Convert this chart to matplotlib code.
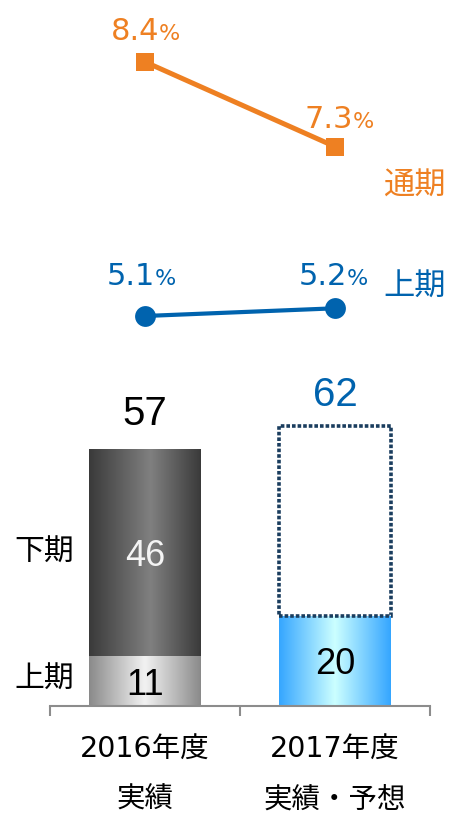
import numpy as np
import matplotlib.pyplot as plt
from matplotlib.colors import to_rgb

# fiscal years and their sub labels
years = ['2016年度', '2017年度']
year_notes = ['実績', '実績・予想']
# sales split into halves (2017 second half is the forecast box)
first_half = [11, 20]
second_half = [46]
totals = [57, 62]
# operating margins (%)
margin_full = [8.4, 7.3]
margin_first = [5.1, 5.2]

ORANGE = '#ee8022'
BLUE = '#0063ae'
NAVY = '#1a3d5e'
AXIS = '#8c8c8c'
JP = ['DejaVu Sans', 'Noto Sans CJK JP']
NUM = ['Liberation Sans', 'DejaVu Sans']

fig = plt.figure(figsize=(4.51, 8.16), dpi=100)
W, H = 451, 816


def px_axes(left, top, right, bottom):
    return fig.add_axes([left / W, 1 - bottom / H, (right - left) / W, (bottom - top) / H])


def gradient_bar(ax, x, bottom, height, width, stops):
    bar = ax.bar(x, height, width, bottom=bottom, color='none', lw=0)[0]
    pos = np.linspace(0, 1, 300)
    where = [p for p, _ in stops]
    cols = np.array([to_rgb(c) for _, c in stops])
    rgb = np.stack([np.interp(pos, where, cols[:, i]) for i in range(3)], axis=-1)
    img = ax.imshow(rgb[None, :, :], extent=(x - width / 2, x + width / 2, bottom, bottom + height),
                    aspect='auto', interpolation='bilinear', zorder=2)
    img.set_clip_path(bar)


x = np.arange(len(years))
bw = 112 / 190

# ---- bar part ----
ax = px_axes(50, 390.3, 430, 706)
dark = [(0, '#3a3a3a'), (0.55, '#808080'), (1, '#3a3a3a')]
light = [(0, '#8a8a8a'), (0.5, '#f2f2f2'), (1, '#8a8a8a')]
cyan = [(0, '#35a6ff'), (0.5, '#ccffff'), (1, '#35a6ff')]

gradient_bar(ax, x[0], 0, first_half[0], bw, light)
gradient_bar(ax, x[0], first_half[0], second_half[0], bw, dark)
gradient_bar(ax, x[1], 0, first_half[1], bw, cyan)
ax.bar(x[1], totals[1] - first_half[1], bw, bottom=first_half[1], fill=False,
       edgecolor=NAVY, lw=2.6, linestyle=(0, (1.0, 0.55)), zorder=3)

# values inside the bars
ax.text(x[0], first_half[0] + second_half[0] / 2, str(second_half[0]), ha='center', va='center_baseline',
        fontsize=26, color='#f4f4f4', family=NUM, zorder=4)
ax.text(x[0], first_half[0] / 2, str(first_half[0]), ha='center', va='center_baseline',
        fontsize=26, color='black', family=NUM, zorder=4)
ax.text(x[1], first_half[1] / 2, str(first_half[1]), ha='center', va='center_baseline',
        fontsize=26, color='black', family=NUM, zorder=4)

# totals above the bars
for i, (tot, col, off) in enumerate(zip(totals, ['black', BLUE], [17, 15])):
    ax.annotate(str(tot), (x[i], tot), xytext=(0, off), textcoords='offset points',
                ha='center', va='baseline', fontsize=29, color=col, family=NUM)

# half labels on the left
ax.text(-0.53, first_half[0] + second_half[0] / 2, '下期', ha='center', va='center',
        fontsize=21.5, family=JP, clip_on=False)
ax.text(-0.53, first_half[0] / 2 + 0.5, '上期', ha='center', va='center',
        fontsize=21.5, family=JP, clip_on=False)

ax.set_xlim(-0.5, 1.5)
ax.set_ylim(0, 70)
for s in ['top', 'left', 'right']:
    ax.spines[s].set_visible(False)
ax.spines['bottom'].set_color(AXIS)
ax.spines['bottom'].set_linewidth(1.5)
ax.set_yticks([])
ax.set_xticks([-0.5, 0.5, 1.5])
ax.set_xticklabels([])
ax.tick_params(axis='x', direction='out', length=7, width=1.5, color=AXIS)

# category labels, two lines each
tr = ax.get_xaxis_transform()
for i in range(len(years)):
    ax.text(x[i], -0.139, years[i], transform=tr, ha='center', va='center', fontsize=20.5, family=JP)
    ax.text(x[i], -0.298, year_notes[i], transform=tr, ha='center', va='center', fontsize=20.5, family=JP)

# ---- margin lines ----
ax2 = px_axes(50, 15.7, 430, 362.2)
ax2.plot(x, margin_full, color=ORANGE, lw=3.6, marker='s', ms=13.5, mew=0, zorder=3)
ax2.plot(x, margin_first, color=BLUE, lw=3.0, marker='o', ms=15, mew=0, zorder=3)
ax2.set_xlim(-0.5, 1.5)
ax2.set_ylim(4.5, 9.0)
ax2.axis('off')


def pct_label(xv, yv, col, dx, dy):
    ax2.annotate(f'{yv:.1f}', (xv, yv), xytext=(dx, dy), textcoords='offset points',
                 ha='right', va='baseline', fontsize=22, color=col)
    ax2.annotate('%', (xv, yv), xytext=(dx, dy), textcoords='offset points',
                 ha='left', va='baseline', fontsize=16, color=col)


for i in range(len(years)):
    pct_label(x[i], margin_full[i], ORANGE, 10 + i * 3, 16 - i * 2.5)
    pct_label(x[i], margin_first[i], BLUE, 7 + i * 1.5, 22 - i * 5)

ax2.text(1.42, 6.78, '通期', ha='center', va='center', fontsize=22.5, color=ORANGE, family=JP)
ax2.text(1.42, 5.47, '上期', ha='center', va='center', fontsize=22.5, color=BLUE, family=JP)

fig.savefig('out.png', dpi=100)
